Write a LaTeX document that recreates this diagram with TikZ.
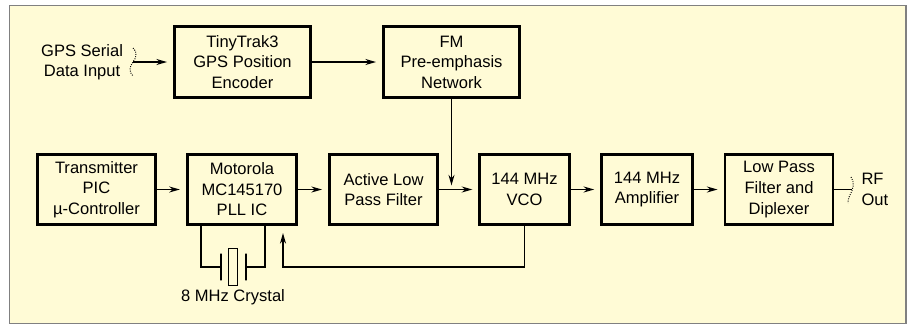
\documentclass[tikz,border=0pt]{standalone}
\usepackage{fontspec}
\setmainfont{Liberation Sans}
\usetikzlibrary{arrows.meta}
\definecolor{panelcream}{HTML}{FFFBD6}
\begin{document}
\begin{tikzpicture}
[x=0.75pt,y=-0.75pt,thick,%
  every node/.style={font=\fontsize{12.4}{15.4}\selectfont,align=center,inner sep=0pt},
  blockbox/.style={shape=rectangle,draw,line width=2.2pt,miter limit=10},
  wire/.style={draw,line width=1.1pt},
  feed/.style={wire,-{Stealth[length=8pt,width=4.5pt]},shorten >=4.5pt},
  plate/.style={shape=rectangle,draw,line width=0.8pt,minimum width=0pt,minimum height=20pt},
  fray/.style={line width=0.7pt,densely dotted}]
\useasboundingbox (0,0) rectangle (909,325);
\draw[gray,line width=0.8pt,fill=panelcream] (9.5,5.5) rectangle (906,323.5);

% top row
\node[blockbox,minimum width=102pt,minimum height=53pt] (encoder) at (242.5,62) {TinyTrak3\\GPS Position\\Encoder};
\node[blockbox,minimum width=102pt,minimum height=53pt] (preemph) at (451.5,62) {FM\\Pre-emphasis\\Network};

% bottom row
\node[blockbox,minimum width=88pt,minimum height=53pt] (pic) at (96.5,189.5) {Transmitter\\PIC\\µ-Controller};
\node[blockbox,minimum width=82pt,minimum height=53pt] (pll) at (242,189.5) {Motorola\\MC145170\\PLL IC};
\node[blockbox,minimum width=81pt,minimum height=53pt] (lpf) at (383.5,189.5) {Active Low\\Pass Filter};
\node[blockbox,minimum width=67pt,minimum height=53pt] (vco) at (524.5,189.5) {144 MHz\\VCO};
\node[blockbox,minimum width=68pt,minimum height=53pt] (amp) at (647,189.5) {144 MHz\\Amplifier};
\node[blockbox,minimum width=81pt,minimum height=53pt] (diplexer) at (779,189.5) {Low Pass\\Filter and\\Diplexer};

% labels at the edge
\node[anchor=east] (gpslabel) at (123.5,62) {GPS Serial\\Data Input};
\node[anchor=west,align=left] (rflabel) at (861,189.5) {RF\\Out};
\node (xtallabel) at (233,297) {8 MHz Crystal};

% crystal
\node[shape=rectangle,draw,line width=0.9pt,minimum width=7pt,minimum height=28pt] (xtal) at (233,267) {};
\node[plate] (plateL) at (221,267) {};
\node[plate] (plateR) at (246,267) {};
\coordinate (xtalL) at (201,267);
\coordinate (xtalR) at (265,267);
\coordinate (gpsin) at (133,62);
\coordinate (rfend) at (852,189.5);
\coordinate (fbturn) at (283,267);
\coordinate (fbtip) at (283,233);
\coordinate (vcodown) at (451.5,189.5);

\foreach \a/\b in {gpsin/encoder,encoder/preemph,pic/pll,pll/lpf,lpf/vco,vco/amp,amp/diplexer}
  \draw[feed] (\a) -- (\b);
\draw[feed,shorten >=3pt] (preemph) -- (vcodown);
\draw[wire] (diplexer) -- (rfend);
\draw[wire] (pll.south -| xtalL) -- (xtalL) -- (plateL);
\draw[wire] (pll.south -| xtalR) -- (xtalR) -- (plateR);
\draw[feed,shorten >=0pt] (vco.south) |- (fbturn) -- (fbtip);

% frayed cable ends
\draw[fray] (133,48) .. controls (138,53) and (136,58) .. (133,62) .. controls (129,67) and (129,72) .. (133,76);
\draw[fray] (851,177) .. controls (855,182) and (853,190) .. (850,195) .. controls (848,199) and (848,201) .. (848,203);
\end{tikzpicture}
\end{document}
